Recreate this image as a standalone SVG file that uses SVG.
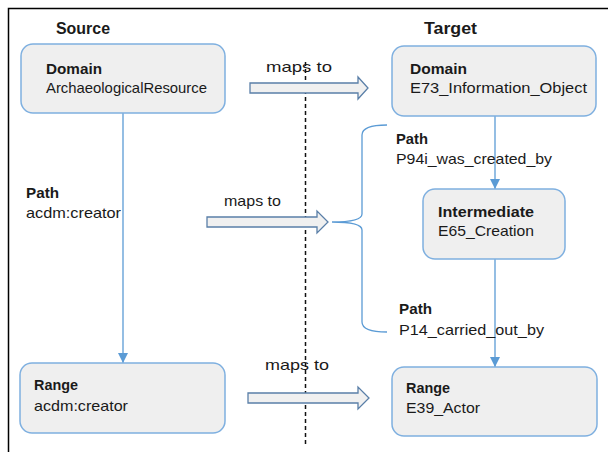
<svg xmlns="http://www.w3.org/2000/svg" width="608" height="452" viewBox="0 0 608 452">
<defs>
<marker id="ah" viewBox="0 0 10 10" refX="10" refY="5" markerWidth="10" markerHeight="10" markerUnits="userSpaceOnUse" orient="auto">
<path d="M0,0 L10,5 L0,10 z" fill="#5b9bd5"/>
</marker>
</defs>
<style>
.box{fill:#efefef;stroke:#7fb0e0;stroke-width:1.5}
.t{font-family:"Liberation Sans",Arial,sans-serif;font-size:14.5px;fill:#1a1a1a}
.b{font-weight:bold}
.h{font-family:"Liberation Sans",Arial,sans-serif;font-size:16px;font-weight:bold;fill:#1a1a1a}
.ln{stroke:#5b9bd5;stroke-width:1.3;fill:none}
.blk{fill:#f0f0f0;stroke:#5a7fa8;stroke-width:1.3}
</style>
<rect width="608" height="452" fill="#ffffff"/>
<path d="M8.5,452 V8.5 H608" fill="none" stroke="#000" stroke-width="1.5"/>
<text class="h" x="56" y="34" textLength="54" lengthAdjust="spacingAndGlyphs">Source</text>
<text class="h" x="424" y="34" textLength="53" lengthAdjust="spacingAndGlyphs">Target</text>
<line x1="305.5" y1="62" x2="305.5" y2="446" stroke="#111" stroke-width="1.5" stroke-dasharray="4,3"/>
<g id="connectors">
<line class="ln" x1="123" y1="113" x2="123" y2="363" marker-end="url(#ah)"/>
<line class="ln" x1="495" y1="116" x2="495" y2="189" marker-end="url(#ah)"/>
<line class="ln" x1="495" y1="259" x2="495" y2="367" marker-end="url(#ah)"/>
<path class="ln" d="M387,125 Q362,125 362,135 V214 Q362,222 332,222 Q362,222 362,230 V322 Q362,332 387,332"/>
<path class="blk" d="M250,83 H358 V77 L368,88 L358,99 V93 H250 z"/>
<path class="blk" d="M207,217 H317 V211 L328,222 L317,233 V227 H207 z"/>
<path class="blk" d="M248,393 H358 V387 L369,398 L358,409 V403 H248 z"/>
</g>
<text class="t" x="266" y="72" textLength="66" lengthAdjust="spacingAndGlyphs">maps to</text>
<text class="t" x="224" y="206" textLength="57" lengthAdjust="spacingAndGlyphs">maps to</text>
<text class="t" x="265" y="370" textLength="64" lengthAdjust="spacingAndGlyphs">maps to</text>
<g id="src-domain">
<rect class="box" x="21" y="44" width="204" height="69" rx="12"/>
<text class="t b" x="46" y="74" textLength="56" lengthAdjust="spacingAndGlyphs">Domain</text>
<text class="t" x="46" y="93" textLength="161" lengthAdjust="spacingAndGlyphs">ArchaeologicalResource</text>
</g>
<g id="src-path">
<text class="t b" x="26" y="198" textLength="33" lengthAdjust="spacingAndGlyphs">Path</text>
<text class="t" x="26" y="218" textLength="95" lengthAdjust="spacingAndGlyphs">acdm:creator</text>
</g>
<g id="src-range">
<rect class="box" x="20" y="363" width="205" height="70" rx="12"/>
<text class="t b" x="34" y="390" textLength="44" lengthAdjust="spacingAndGlyphs">Range</text>
<text class="t" x="34" y="411" textLength="94" lengthAdjust="spacingAndGlyphs">acdm:creator</text>
</g>
<g id="tgt-domain">
<rect class="box" x="392" y="46" width="204" height="70" rx="12"/>
<text class="t b" x="410" y="74" textLength="57" lengthAdjust="spacingAndGlyphs">Domain</text>
<text class="t" x="410" y="93" textLength="177" lengthAdjust="spacingAndGlyphs">E73_Information_Object</text>
</g>
<g id="tgt-path1">
<text class="t b" x="396" y="144" textLength="32" lengthAdjust="spacingAndGlyphs">Path</text>
<text class="t" x="396" y="164" textLength="156" lengthAdjust="spacingAndGlyphs">P94i_was_created_by</text>
</g>
<g id="tgt-intermediate">
<rect class="box" x="423" y="189" width="142" height="70" rx="12"/>
<text class="t b" x="438" y="217" textLength="96" lengthAdjust="spacingAndGlyphs">Intermediate</text>
<text class="t" x="438" y="236" textLength="96" lengthAdjust="spacingAndGlyphs">E65_Creation</text>
</g>
<g id="tgt-path2">
<text class="t b" x="399" y="314" textLength="33" lengthAdjust="spacingAndGlyphs">Path</text>
<text class="t" x="399" y="335" textLength="145" lengthAdjust="spacingAndGlyphs">P14_carried_out_by</text>
</g>
<g id="tgt-range">
<rect class="box" x="392" y="367" width="205" height="69" rx="12"/>
<text class="t b" x="406" y="393" textLength="44" lengthAdjust="spacingAndGlyphs">Range</text>
<text class="t" x="406" y="413" textLength="74" lengthAdjust="spacingAndGlyphs">E39_Actor</text>
</g>
</svg>
